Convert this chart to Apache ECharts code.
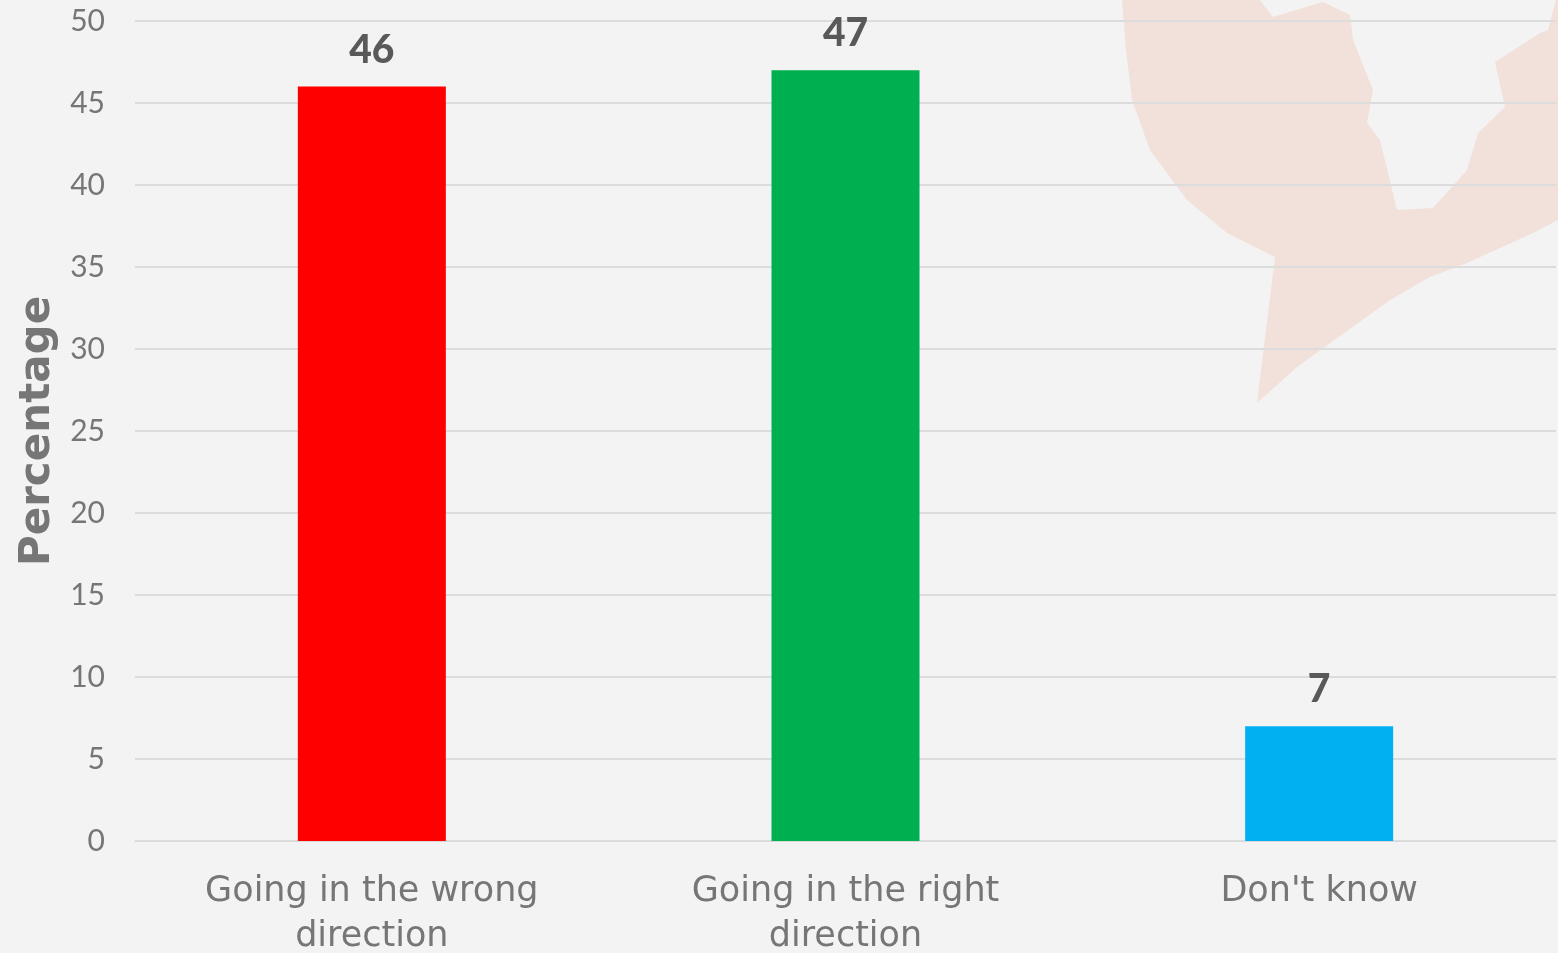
<!DOCTYPE html>
<html><head><meta charset="utf-8">
<script src="https://cdn.jsdelivr.net/npm/echarts@6/dist/echarts.min.js"></script>
<style>html,body{margin:0;padding:0;background:#f3f3f3;}#c{width:1558px;height:953px;}</style>
</head><body><div id="c"></div>
<script>
const categories = ["Going in the wrong\ndirection", "Going in the right\ndirection", "Don't know"];
const values = [46, 47, 7];
const barColors = ["#FF0000", "#00B050", "#00B0F0"];
const yTicks = { min: 0, max: 50, interval: 5 };
const yTitle = "Percentage";

const chart = echarts.init(document.getElementById('c'));
const wide = "'DejaVu Sans', 'Lato', sans-serif";
const num = "'Lato', 'DejaVu Sans', sans-serif";
chart.setOption({
  backgroundColor: '#f3f3f3',
  animation: false,
  graphic: [{
    type: 'polygon', z: -10, silent: true,
    shape: { points: [[1122,0],[1126,50],[1132,100],[1150,150],[1187,200],[1227,233],[1275,257],[1257,403],[1297,367],[1390,300],[1430,277],[1467,263],[1533,233],[1558,220],[1558,0],[1556,0],[1548,30],[1540,33],[1495,62],[1505,107],[1478,133],[1467,170],[1433,208],[1397,210],[1380,140],[1367,123],[1373,90],[1353,40],[1350,15],[1323,2],[1273,17],[1260,0]] },
    style: { fill: 'rgba(240,150,120,0.2)' }
  }],
  grid: { left: 135, right: 2, top: 21, bottom: 112, containLabel: false, outerBoundsMode: 'none' },
  xAxis: {
    type: 'category', data: categories,
    axisLine: { show: true, lineStyle: { color: '#d9d9d9', width: 1 } },
    axisTick: { show: false },
    axisLabel: { color: '#767676', fontSize: 35, fontFamily: wide, lineHeight: 45, margin: 28, interval: 0 }
  },
  yAxis: {
    type: 'value', min: yTicks.min, max: yTicks.max, interval: yTicks.interval,
    name: yTitle, nameLocation: 'middle', nameGap: 76, nameRotate: 90,
    nameTextStyle: { color: '#767676', fontSize: 42, fontWeight: 'bold', fontFamily: wide },
    axisLine: { show: false }, axisTick: { show: false },
    axisLabel: { color: '#767676', fontSize: 30, fontFamily: num, margin: 30 },
    splitLine: { lineStyle: { color: '#dcdcdc', width: 2 } }
  },
  series: [{
    type: 'bar', barWidth: 148,
    data: values.map((v, i) => ({ value: v, itemStyle: { color: barColors[i] } })),
    label: { show: true, position: 'top', distance: 17, color: '#595959', fontSize: 39, fontWeight: 900, fontFamily: num }
  }]
});
</script></body></html>
